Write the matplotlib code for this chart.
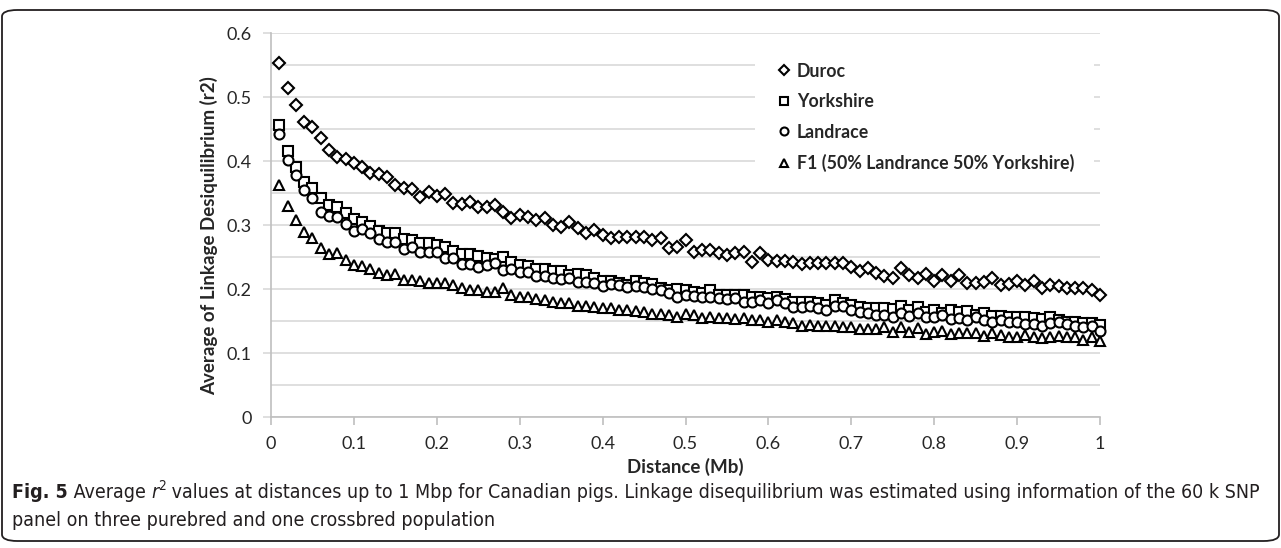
import numpy as np
import matplotlib
matplotlib.use("Agg")
import matplotlib.pyplot as plt
from matplotlib.patches import FancyBboxPatch

# distance (Mb), one point every 0.01
distance = np.round(np.arange(1, 101) * 0.01, 2)

duroc = [0.553, 0.514, 0.488, 0.461, 0.453, 0.436, 0.417, 0.406, 0.403, 0.397,
         0.391, 0.381, 0.380, 0.375, 0.362, 0.358, 0.356, 0.344, 0.351, 0.345,
         0.348, 0.334, 0.333, 0.336, 0.328, 0.328, 0.331, 0.320, 0.311, 0.316,
         0.313, 0.308, 0.311, 0.300, 0.297, 0.305, 0.295, 0.287, 0.292, 0.284,
         0.280, 0.281, 0.281, 0.281, 0.281, 0.277, 0.280, 0.264, 0.266, 0.277,
         0.258, 0.261, 0.261, 0.256, 0.253, 0.256, 0.258, 0.242, 0.256, 0.245,
         0.244, 0.244, 0.242, 0.239, 0.240, 0.240, 0.240, 0.240, 0.240, 0.235,
         0.228, 0.233, 0.225, 0.220, 0.217, 0.233, 0.222, 0.217, 0.223, 0.212,
         0.222, 0.212, 0.222, 0.209, 0.209, 0.211, 0.217, 0.206, 0.208, 0.213,
         0.206, 0.213, 0.202, 0.206, 0.205, 0.202, 0.201, 0.201, 0.198, 0.190]

yorkshire = [0.456, 0.416, 0.391, 0.367, 0.358, 0.342, 0.332, 0.328, 0.318, 0.309,
             0.305, 0.299, 0.290, 0.288, 0.287, 0.278, 0.277, 0.272, 0.272, 0.269,
             0.266, 0.260, 0.255, 0.255, 0.252, 0.249, 0.247, 0.250, 0.242, 0.237,
             0.236, 0.232, 0.232, 0.228, 0.228, 0.222, 0.223, 0.222, 0.217, 0.213,
             0.213, 0.210, 0.206, 0.213, 0.209, 0.208, 0.201, 0.198, 0.200, 0.198,
             0.196, 0.194, 0.198, 0.191, 0.191, 0.191, 0.191, 0.187, 0.187, 0.186,
             0.187, 0.184, 0.180, 0.180, 0.180, 0.178, 0.175, 0.183, 0.178, 0.175,
             0.172, 0.171, 0.171, 0.170, 0.169, 0.173, 0.167, 0.172, 0.164, 0.167,
             0.162, 0.167, 0.164, 0.166, 0.159, 0.162, 0.158, 0.158, 0.156, 0.156,
             0.157, 0.154, 0.153, 0.157, 0.151, 0.149, 0.148, 0.147, 0.147, 0.144]

landrace = [0.442, 0.402, 0.378, 0.355, 0.342, 0.321, 0.314, 0.313, 0.302, 0.291,
            0.294, 0.288, 0.278, 0.274, 0.274, 0.262, 0.265, 0.258, 0.258, 0.258,
            0.248, 0.248, 0.239, 0.239, 0.235, 0.237, 0.240, 0.230, 0.232, 0.227,
            0.227, 0.220, 0.220, 0.217, 0.215, 0.217, 0.211, 0.211, 0.210, 0.205,
            0.208, 0.206, 0.203, 0.205, 0.203, 0.200, 0.198, 0.194, 0.188, 0.191,
            0.189, 0.188, 0.188, 0.186, 0.184, 0.186, 0.180, 0.180, 0.183, 0.178,
            0.183, 0.178, 0.172, 0.172, 0.173, 0.170, 0.167, 0.173, 0.173, 0.167,
            0.164, 0.163, 0.160, 0.159, 0.157, 0.162, 0.158, 0.162, 0.156, 0.157,
            0.159, 0.153, 0.154, 0.151, 0.157, 0.151, 0.149, 0.152, 0.148, 0.148,
            0.146, 0.146, 0.142, 0.147, 0.148, 0.146, 0.142, 0.141, 0.142, 0.134]

f1 = [0.362, 0.329, 0.308, 0.289, 0.279, 0.264, 0.255, 0.256, 0.246, 0.237,
      0.236, 0.232, 0.225, 0.222, 0.224, 0.214, 0.214, 0.212, 0.210, 0.209,
      0.209, 0.206, 0.201, 0.198, 0.198, 0.196, 0.196, 0.201, 0.190, 0.188,
      0.187, 0.185, 0.183, 0.180, 0.178, 0.178, 0.173, 0.173, 0.172, 0.170,
      0.170, 0.167, 0.167, 0.166, 0.164, 0.161, 0.161, 0.159, 0.157, 0.161,
      0.159, 0.155, 0.156, 0.155, 0.155, 0.153, 0.155, 0.152, 0.152, 0.149,
      0.152, 0.149, 0.147, 0.142, 0.144, 0.142, 0.142, 0.142, 0.141, 0.141,
      0.137, 0.138, 0.137, 0.141, 0.133, 0.140, 0.133, 0.139, 0.129, 0.133,
      0.134, 0.129, 0.132, 0.131, 0.132, 0.126, 0.132, 0.128, 0.125, 0.125,
      0.128, 0.125, 0.123, 0.125, 0.126, 0.125, 0.125, 0.120, 0.125, 0.119]

series_labels = ["Duroc", "Yorkshire", "Landrace", "F1 (50% Landrance 50% Yorkshire)"]
x_ticks = [0, 0.1, 0.2, 0.3, 0.4, 0.5, 0.6, 0.7, 0.8, 0.9, 1]
x_ticklabels = ["0", "0.1", "0.2", "0.3", "0.4", "0.5", "0.6", "0.7", "0.8", "0.9", "1"]
y_ticks = [0, 0.1, 0.2, 0.3, 0.4, 0.5, 0.6]
y_ticklabels = ["0", "0.1", "0.2", "0.3", "0.4", "0.5", "0.6"]

plt.rcParams["font.family"] = ["Lato", "DejaVu Sans"]

W, H = 1281, 548
fig = plt.figure(figsize=(W / 100, H / 100), dpi=100)
ax = fig.add_axes([271 / W, 1 - 417 / H, (1100 - 271) / W, (417 - 33) / H])

grid_col = "#d9d9d9"
axis_col = "#bfbfbf"
text_col = "#262626"

styles = [("D", 5.8), ("s", 7.0), ("o", 7.2), ("^", 7.6)]
for vals, lab, (mk, ms) in zip([duroc, yorkshire, landrace, f1], series_labels, styles):
    ax.plot(distance, vals, linestyle="none", marker=mk, markersize=ms,
            markerfacecolor="white", markeredgecolor="black", markeredgewidth=1.5,
            label=lab, zorder=3, clip_on=False)

ax.set_xlim(0, 1)
ax.set_ylim(0, 0.6)
ax.set_xticks(x_ticks)
ax.set_xticklabels(x_ticklabels)
ax.set_yticks(y_ticks)
ax.set_yticklabels(y_ticklabels)
ax.set_yticks(np.arange(0.05, 0.6, 0.1), minor=True)

ax.grid(axis="y", which="both", color=grid_col, linewidth=1.2, zorder=0)
ax.set_axisbelow(True)
for s in ["top", "right"]:
    ax.spines[s].set_visible(False)
for s in ["left", "bottom"]:
    ax.spines[s].set_color(axis_col)
    ax.spines[s].set_linewidth(1.2)

ax.tick_params(axis="x", which="major", direction="out", length=6, width=1.2,
               color=axis_col, labelsize=13, labelcolor=text_col, pad=8)
ax.tick_params(axis="y", which="major", direction="out", length=6, width=1.2,
               color=grid_col, labelsize=13, labelcolor=text_col, pad=8)
ax.tick_params(axis="y", which="minor", length=0)

ax.set_xlabel("Distance (Mb)", fontsize=13.5, fontweight="bold", color=text_col)
ax.xaxis.set_label_coords(0.5, (417 - 467) / 384)
ax.xaxis.label.set_va("center")
ax.set_ylabel("Average of Linkage Desiquilibrium (r2)", fontsize=13.5,
              fontweight="bold", color=text_col)
ax.yaxis.set_label_coords((209 - 271) / 829, (417 - 236) / 384)
ax.yaxis.label.set_va("center")

leg = ax.legend(loc="upper left", bbox_to_anchor=((755 - 271) / 829, (417 - 43) / 384),
                borderaxespad=0, frameon=True, fancybox=False, facecolor="white",
                edgecolor="white", framealpha=1, markerscale=0.8, handlelength=1.1,
                handletextpad=0.15, labelspacing=0.76, borderpad=1.1,
                prop={"size": 12.8, "weight": "bold"})
leg.get_frame().set_linewidth(0)
for t in leg.get_texts():
    t.set_color(text_col)

# outer box
box = FancyBboxPatch((2 / W, (H - 541) / H), 1277 / W, (541 - 10) / H,
                     boxstyle="round,pad=0,rounding_size=0.012",
                     transform=fig.transFigure, facecolor="none",
                     edgecolor="#231f20", linewidth=1.3, zorder=10)
fig.patches.append(box)

# caption, laid out piece by piece so the bold / italic parts stay real text
cap_family = "DejaVu Sans"
cap_col = "#231f20"
line1 = [("Fig. 5", "bold", "normal", 0, 1.0),
         (" Average ", "normal", "normal", 0, 1.0),
         ("r", "normal", "italic", 0, 1.0),
         ("2", "normal", "normal", 6, 0.7),
         (" values at distances up to 1 Mbp for Canadian pigs. Linkage disequilibrium was "
          "estimated using information of the 60 k SNP", "normal", "normal", 0, 1.0)]
line2 = [("panel on three purebred and one crossbred population", "normal", "normal", 0, 1.0)]


def layout(pieces, y_px, fs):
    renderer = fig.canvas.get_renderer()
    x = 12
    made = []
    for s, wt, st, dy, f in pieces:
        t = fig.text(x / W, 1 - (y_px - dy) / H, s, fontsize=fs * f, fontweight=wt,
                     fontstyle=st, family=cap_family, stretch="condensed",
                     color=cap_col, va="center", ha="left")
        x += t.get_window_extent(renderer=renderer).width
        made.append(t)
    return made, x - 12


fs = 14.0
made, width = layout(line1, 492, fs)
for t in made:
    t.remove()
fs = fs * 1253 / width
layout(line1, 492, fs)
layout(line2, 520, fs)

fig.savefig("out.png", dpi=100)
